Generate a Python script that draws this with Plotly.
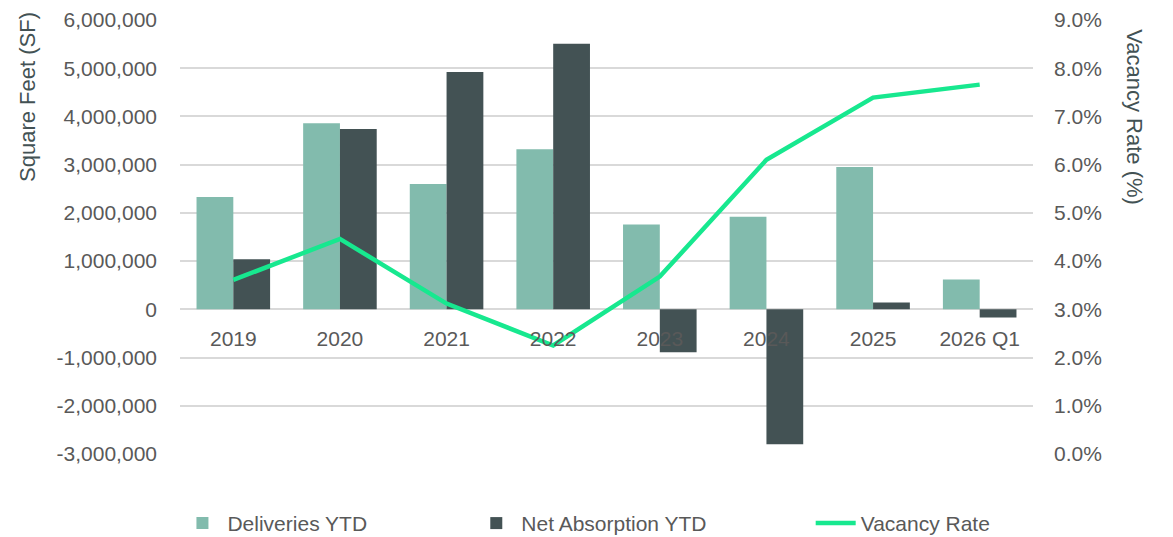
import plotly.graph_objects as go

categories = ["2019", "2020", "2021", "2022", "2023", "2024", "2025", "2026 Q1"]
deliveries = [2330000, 3860000, 2600000, 3320000, 1760000, 1920000, 2950000, 620000]
net_absorption = [1040000, 3740000, 4920000, 5510000, -890000, -2800000, 140000, -170000]
vacancy_rate = [0.0361, 0.0446, 0.0312, 0.0225, 0.0368, 0.0610, 0.0739, 0.0766]

sf_tick_values = [-3000000, -2000000, -1000000, 0, 1000000, 2000000, 3000000, 4000000, 5000000, 6000000]
sf_tick_labels = ["-3,000,000", "-2,000,000", "-1,000,000", "0", "1,000,000", "2,000,000",
                  "3,000,000", "4,000,000", "5,000,000", "6,000,000"]

FONT = "Liberation Sans, Arial, sans-serif"
TICK_COLOR = "#595959"
TITLE_COLOR = "#435254"
GRID = "#d9d9d9"
PAD = "\u00a0" * 17

fig = go.Figure()
fig.add_trace(go.Bar(x=categories, y=deliveries, name="Deliveries YTD" + PAD,
                     marker=dict(color="#82BBAD", line=dict(width=0))))
fig.add_trace(go.Bar(x=categories, y=net_absorption, name="Net Absorption YTD" + PAD,
                     marker=dict(color="#435254", line=dict(width=0))))
fig.add_trace(go.Scatter(x=categories, y=vacancy_rate, name="Vacancy Rate", yaxis="y2",
                         mode="lines", line=dict(color="#17E88F", width=4.5)))

fig.update_layout(
    width=1173, height=537,
    margin=dict(l=180, r=140, t=20, b=83, autoexpand=False),
    paper_bgcolor="white", plot_bgcolor="white",
    font=dict(family=FONT, size=21, color=TICK_COLOR),
    barmode="group", bargap=0.31, bargroupgap=0,
    showlegend=True,
    legend=dict(orientation="h", x=-0.003, xanchor="left", y=-0.16, yanchor="middle",
                font=dict(size=21, color=TICK_COLOR), traceorder="normal",
                itemwidth=40),
    xaxis=dict(type="category", anchor="free", position=1/3, showgrid=False,
               showline=False, zeroline=False, ticks="", ticklabelstandoff=15,
               tickfont=dict(size=21, color=TICK_COLOR)),
    yaxis=dict(range=[-3000000, 6000000], tickmode="array", tickvals=sf_tick_values,
               ticktext=sf_tick_labels,
               showgrid=True, gridcolor=GRID, gridwidth=1.5,
               zeroline=True, zerolinecolor=GRID, zerolinewidth=1.5,
               showline=False, ticklabelstandoff=22,
               tickfont=dict(size=21, color=TICK_COLOR)),
    yaxis2=dict(range=[0, 0.09], dtick=0.01, tickformat=".1%", overlaying="y", side="right",
                showgrid=False, zeroline=False, showline=False, ticklabelstandoff=20,
                tickfont=dict(size=21, color=TICK_COLOR)),
    annotations=[
        dict(text="Square Feet (SF)", xref="paper", yref="paper", x=-0.178, y=0.823,
             textangle=-90, showarrow=False, xanchor="center", yanchor="middle",
             font=dict(size=22, color=TITLE_COLOR, family=FONT)),
        dict(text="Vacancy Rate (%)", xref="paper", yref="paper", x=1.1196, y=0.776,
             textangle=90, showarrow=False, xanchor="center", yanchor="middle",
             font=dict(size=22, color=TITLE_COLOR, family=FONT)),
    ],
)

fig.write_html("out.html")
